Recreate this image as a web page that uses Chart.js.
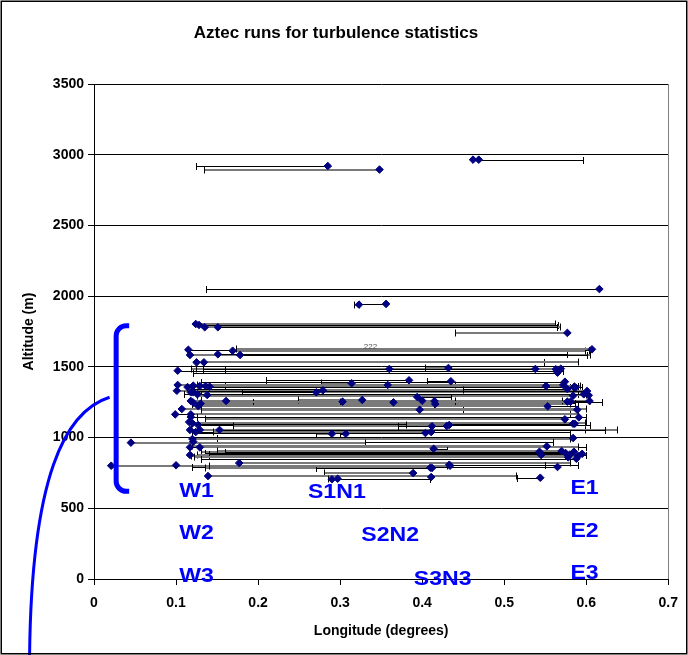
<!DOCTYPE html>
<html>
<head>
<meta charset="utf-8">
<title>Aztec runs for turbulence statistics</title>
<script src="https://cdn.jsdelivr.net/npm/chart.js@4/dist/chart.umd.min.js"></script>
<style>
  html, body { margin: 0; padding: 0; background: #fff; }
  #wrap { width: 688px; height: 655px; }
</style>
</head>
<body>
<div id="wrap"><canvas id="runChart" width="688" height="655"></canvas></div>
<script>
// each run: diamond at (runLon, runAlt), horizontal error bar out to runBarTo (longitude)
const runLon = [
  0.285, 0.348, 0.462, 0.469, 0.616, 0.323, 0.356,
  0.124, 0.128, 0.135, 0.151, 0.577,
  0.115, 0.117, 0.151, 0.169, 0.178, 0.607, 0.125, 0.134,
  0.102, 0.563, 0.565, 0.569, 0.538, 0.432, 0.360,
  0.102, 0.114, 0.121, 0.129, 0.136, 0.141, 0.314, 0.384, 0.358, 0.435, 0.551, 0.574, 0.572, 0.577, 0.585, 0.587,
  0.101, 0.118, 0.121, 0.126, 0.138, 0.271, 0.279, 0.601, 0.603, 0.597, 0.584, 0.394,
  0.118, 0.121, 0.130, 0.127, 0.161, 0.303, 0.327, 0.400, 0.415, 0.416, 0.365, 0.604, 0.577, 0.581, 0.553, 0.397,
  0.107, 0.099, 0.118, 0.118, 0.589, 0.591, 0.574,
  0.116, 0.120, 0.127, 0.584, 0.586, 0.117, 0.124, 0.129, 0.153, 0.290, 0.307, 0.412, 0.404, 0.411, 0.430, 0.433, 0.584,
  0.120, 0.121, 0.045, 0.117, 0.129, 0.414, 0.552, 0.117, 0.543, 0.545,
  0.570, 0.575, 0.580, 0.585, 0.590, 0.595, 0.578, 0.588,
  0.177, 0.100, 0.021, 0.565, 0.410, 0.412, 0.434, 0.433, 0.389, 0.411, 0.139, 0.544, 0.290, 0.297
];
const runAlt = [
  2920, 2895, 2965, 2965, 2050, 1940, 1945,
  1803, 1796, 1780, 1780, 1740,
  1621, 1584, 1589, 1614, 1584, 1624, 1532, 1532,
  1473, 1483, 1459, 1487, 1485, 1492, 1485,
  1372, 1357, 1367, 1365, 1365, 1360, 1384, 1405, 1372, 1398, 1365, 1395, 1372, 1343, 1357, 1355,
  1331, 1320, 1320, 1306, 1301, 1320, 1334, 1329, 1299, 1306, 1296, 1287,
  1259, 1247, 1240, 1223, 1259, 1254, 1266, 1261, 1258, 1237, 1249, 1259, 1254, 1254, 1221, 1197,
  1202, 1164, 1164, 1145, 1197, 1143, 1129,
  1110, 1101, 1089, 1098, 1098, 1054, 1039, 1054, 1054, 1027, 1027, 1080, 1032, 1039, 1082, 1089, 997,
  990, 971, 964, 931, 931, 921, 938, 877, 900, 877,
  905, 890, 880, 900, 870, 885, 860, 850,
  820, 804, 801, 792, 787, 785, 801, 808, 749, 721, 728, 716, 705, 709
];
const runBarTo = [
  0.124, 0.134, 0.596, null, 0.137, 0.317, 0.323,
  0.562, 0.566, 0.568, 0.564, 0.440,
  0.603, 0.605, 0.576, 0.598, 0.601, 0.173, 0.549, 0.590,
  0.572, 0.118, 0.121, 0.124, 0.133, 0.403, 0.160,
  0.574, 0.580, 0.592, 0.590, 0.585, 0.595, 0.277, 0.210, 0.440, 0.406, 0.160, 0.130, 0.125, 0.120, 0.118, 0.140,
  0.600, 0.598, 0.602, 0.590, 0.600, 0.180, 0.450, 0.122, 0.130, 0.110, 0.125, 0.435,
  0.605, 0.586, 0.580, 0.590, 0.570, 0.194, 0.249, 0.440, 0.440, 0.415, 0.300, 0.130, 0.120, 0.619, 0.120, 0.450,
  0.600, 0.580, 0.590, 0.600, 0.130, 0.125, 0.135,
  0.600, 0.598, 0.605, 0.120, 0.118, 0.598, 0.580, 0.637, 0.623, 0.270, 0.300, 0.170, 0.120, 0.145, 0.370, 0.380, 0.150,
  0.580, 0.560, 0.330, 0.600, 0.590, 0.430, 0.120, 0.600, 0.130, 0.140,
  0.150, 0.135, 0.125, 0.160, 0.118, 0.140, 0.122, 0.130,
  0.580, 0.590, 0.430, 0.120, 0.135, 0.270, 0.140, 0.550, 0.280, 0.410, 0.515, 0.516, 0.285, 0.410
];

// leg names written on the plot
const legNames = ["W1", "S1N1", "E1", "W2", "S2N2", "E2", "W3", "S3N3", "E3"];
const legLon = [0.125, 0.296, 0.598, 0.125, 0.361, 0.598, 0.125, 0.425, 0.598];
const legAlt = [622, 615, 643, 325, 311, 339, 21, 0, 42];

const xMin = 0, xMax = 0.7, xStep = 0.1;
const yMin = 0, yMax = 3500, yStep = 500;

const FONT = "'Liberation Sans', Arial, sans-serif";
const blue = "#0000ff";

const points = runLon.map((lon, i) => ({ x: lon, y: runAlt[i] }));

// horizontal error bars with an end cap, drawn under the diamonds
const errorBars = {
    id: "errorBars",
    beforeDatasetsDraw(chart) {
        const { ctx, scales: { x, y } } = chart;
        ctx.save();
        runLon.forEach((lon, i) => {
            const to = runBarTo[i];
            if (to === null) return;
            const grey = i % 2 === 1;
            const py = Math.round(y.getPixelForValue(runAlt[i])) + (grey ? 0 : 0.5);
            const x0 = x.getPixelForValue(lon);
            const x1 = Math.round(x.getPixelForValue(to)) + 0.5;
            ctx.strokeStyle = grey ? "#7a7a7a" : "#000000";
            ctx.lineWidth = grey ? 2 : 1;
            ctx.beginPath();
            ctx.moveTo(x0, py);
            ctx.lineTo(x1, py);
            ctx.stroke();
            ctx.strokeStyle = "#000";
            ctx.lineWidth = 1;
            ctx.beginPath();
            ctx.moveTo(x1, py - 3.5);
            ctx.lineTo(x1, py + 3.5);
            ctx.stroke();
        });
        ctx.restore();
    }
};

// frame, plot border, blue bracket, curve and leg names
const decorations = {
    id: "decorations",
    afterDraw(chart) {
        const { ctx, chartArea: a, scales: { x, y } } = chart;
        ctx.save();

        // plot area right edge
        ctx.strokeStyle = "#808080";
        ctx.lineWidth = 1;
        ctx.beginPath();
        ctx.moveTo(Math.round(a.right) + 0.5, a.top);
        ctx.lineTo(Math.round(a.right) + 0.5, a.bottom);
        ctx.stroke();

        // tiny run label
        ctx.fillStyle = "#555";
        ctx.font = "8px " + FONT;
        ctx.textAlign = "center";
        ctx.textBaseline = "middle";
        ctx.fillText("222", x.getPixelForValue(0.337), y.getPixelForValue(1645));

        // bracket
        const bx = x.getPixelForValue(0.027);
        const bTop = y.getPixelForValue(1790);
        const bBot = y.getPixelForValue(620);
        const r = 10;
        ctx.strokeStyle = blue;
        ctx.lineWidth = 5;
        ctx.beginPath();
        ctx.moveTo(bx + 13, bTop);
        ctx.arcTo(bx, bTop, bx, bTop + r, r);
        ctx.lineTo(bx, bBot - r);
        ctx.arcTo(bx, bBot, bx + 13, bBot, r);
        ctx.lineTo(bx + 13, bBot);
        ctx.stroke();

        // curve running off the bottom
        const sx = x.getPixelForValue(0.019);
        const sy = y.getPixelForValue(1285);
        ctx.lineWidth = 3;
        ctx.beginPath();
        ctx.moveTo(sx, sy);
        ctx.bezierCurveTo(sx - 45, sy + 14, sx - 78, sy + 80, sx - 80, chart.height);
        ctx.stroke();

        // leg names (slightly widened like the original export)
        ctx.fillStyle = blue;
        ctx.font = "bold 21px " + FONT;
        ctx.textAlign = "center";
        ctx.textBaseline = "middle";
        legNames.forEach((name, i) => {
            const lx = x.getPixelForValue(legLon[i]);
            const ly = y.getPixelForValue(legAlt[i]);
            ctx.save();
            ctx.translate(lx, ly);
            ctx.scale(1.1, 1);
            ctx.fillText(name, 0, 0);
            ctx.restore();
        });

        // outer frame
        ctx.strokeStyle = "#000";
        ctx.lineWidth = 1.5;
        ctx.strokeRect(1.25, 1.25, chart.width - 2.5, chart.height - 2.5);
        ctx.restore();
    }
};

const chart = new Chart(document.getElementById("runChart"), {
    type: "scatter",
    data: {
        datasets: [{
            label: "Aztec runs",
            data: points,
            pointStyle: "rectRot",
            pointRadius: 3.8,
            pointHoverRadius: 3.8,
            backgroundColor: "#000080",
            borderColor: "#000080",
            borderWidth: 1
        }]
    },
    options: {
        responsive: false,
        animation: false,
        devicePixelRatio: 1,
        layout: { padding: { left: 0, right: 16, top: 0, bottom: 0 } },
        plugins: {
            legend: { display: false },
            tooltip: { enabled: false },
            title: {
                display: true,
                text: "Aztec runs for turbulence statistics",
                color: "#000",
                font: { family: FONT, size: 17, weight: "bold" },
                padding: { top: 23, bottom: 40.6 }
            }
        },
        scales: {
            x: {
                type: "linear",
                min: xMin, max: xMax,
                afterFit: s => { s.height = 76; },
                border: { color: "#000", width: 1 },
                grid: { drawOnChartArea: false, drawTicks: true, tickLength: 6, color: "#000" },
                ticks: {
                    stepSize: xStep,
                    color: "#000",
                    padding: 10,
                    maxRotation: 0,
                    font: { family: FONT, size: 14, weight: "bold" },
                    callback: v => String(Math.round(v * 10) / 10)
                },
                title: {
                    display: true,
                    text: "Longitude (degrees)",
                    color: "#000",
                    font: { family: FONT, size: 14, weight: "bold" },
                    padding: { top: 0, bottom: 15 }
                }
            },
            y: {
                type: "linear",
                min: yMin, max: yMax,
                afterFit: s => { s.width = 94; },
                border: { color: "#000", width: 1 },
                grid: { color: "#000", lineWidth: 1, drawTicks: true, tickLength: 6 },
                ticks: {
                    stepSize: yStep,
                    color: "#000",
                    padding: 4,
                    font: { family: FONT, size: 14, weight: "bold" },
                    callback: v => String(v)
                },
                title: {
                    display: true,
                    text: "Altitude (m)",
                    color: "#000",
                    font: { family: FONT, size: 14, weight: "bold" },
                    padding: { top: 21, bottom: 0 }
                }
            }
        }
    },
    plugins: [errorBars, decorations]
});
</script>
</body>
</html>
